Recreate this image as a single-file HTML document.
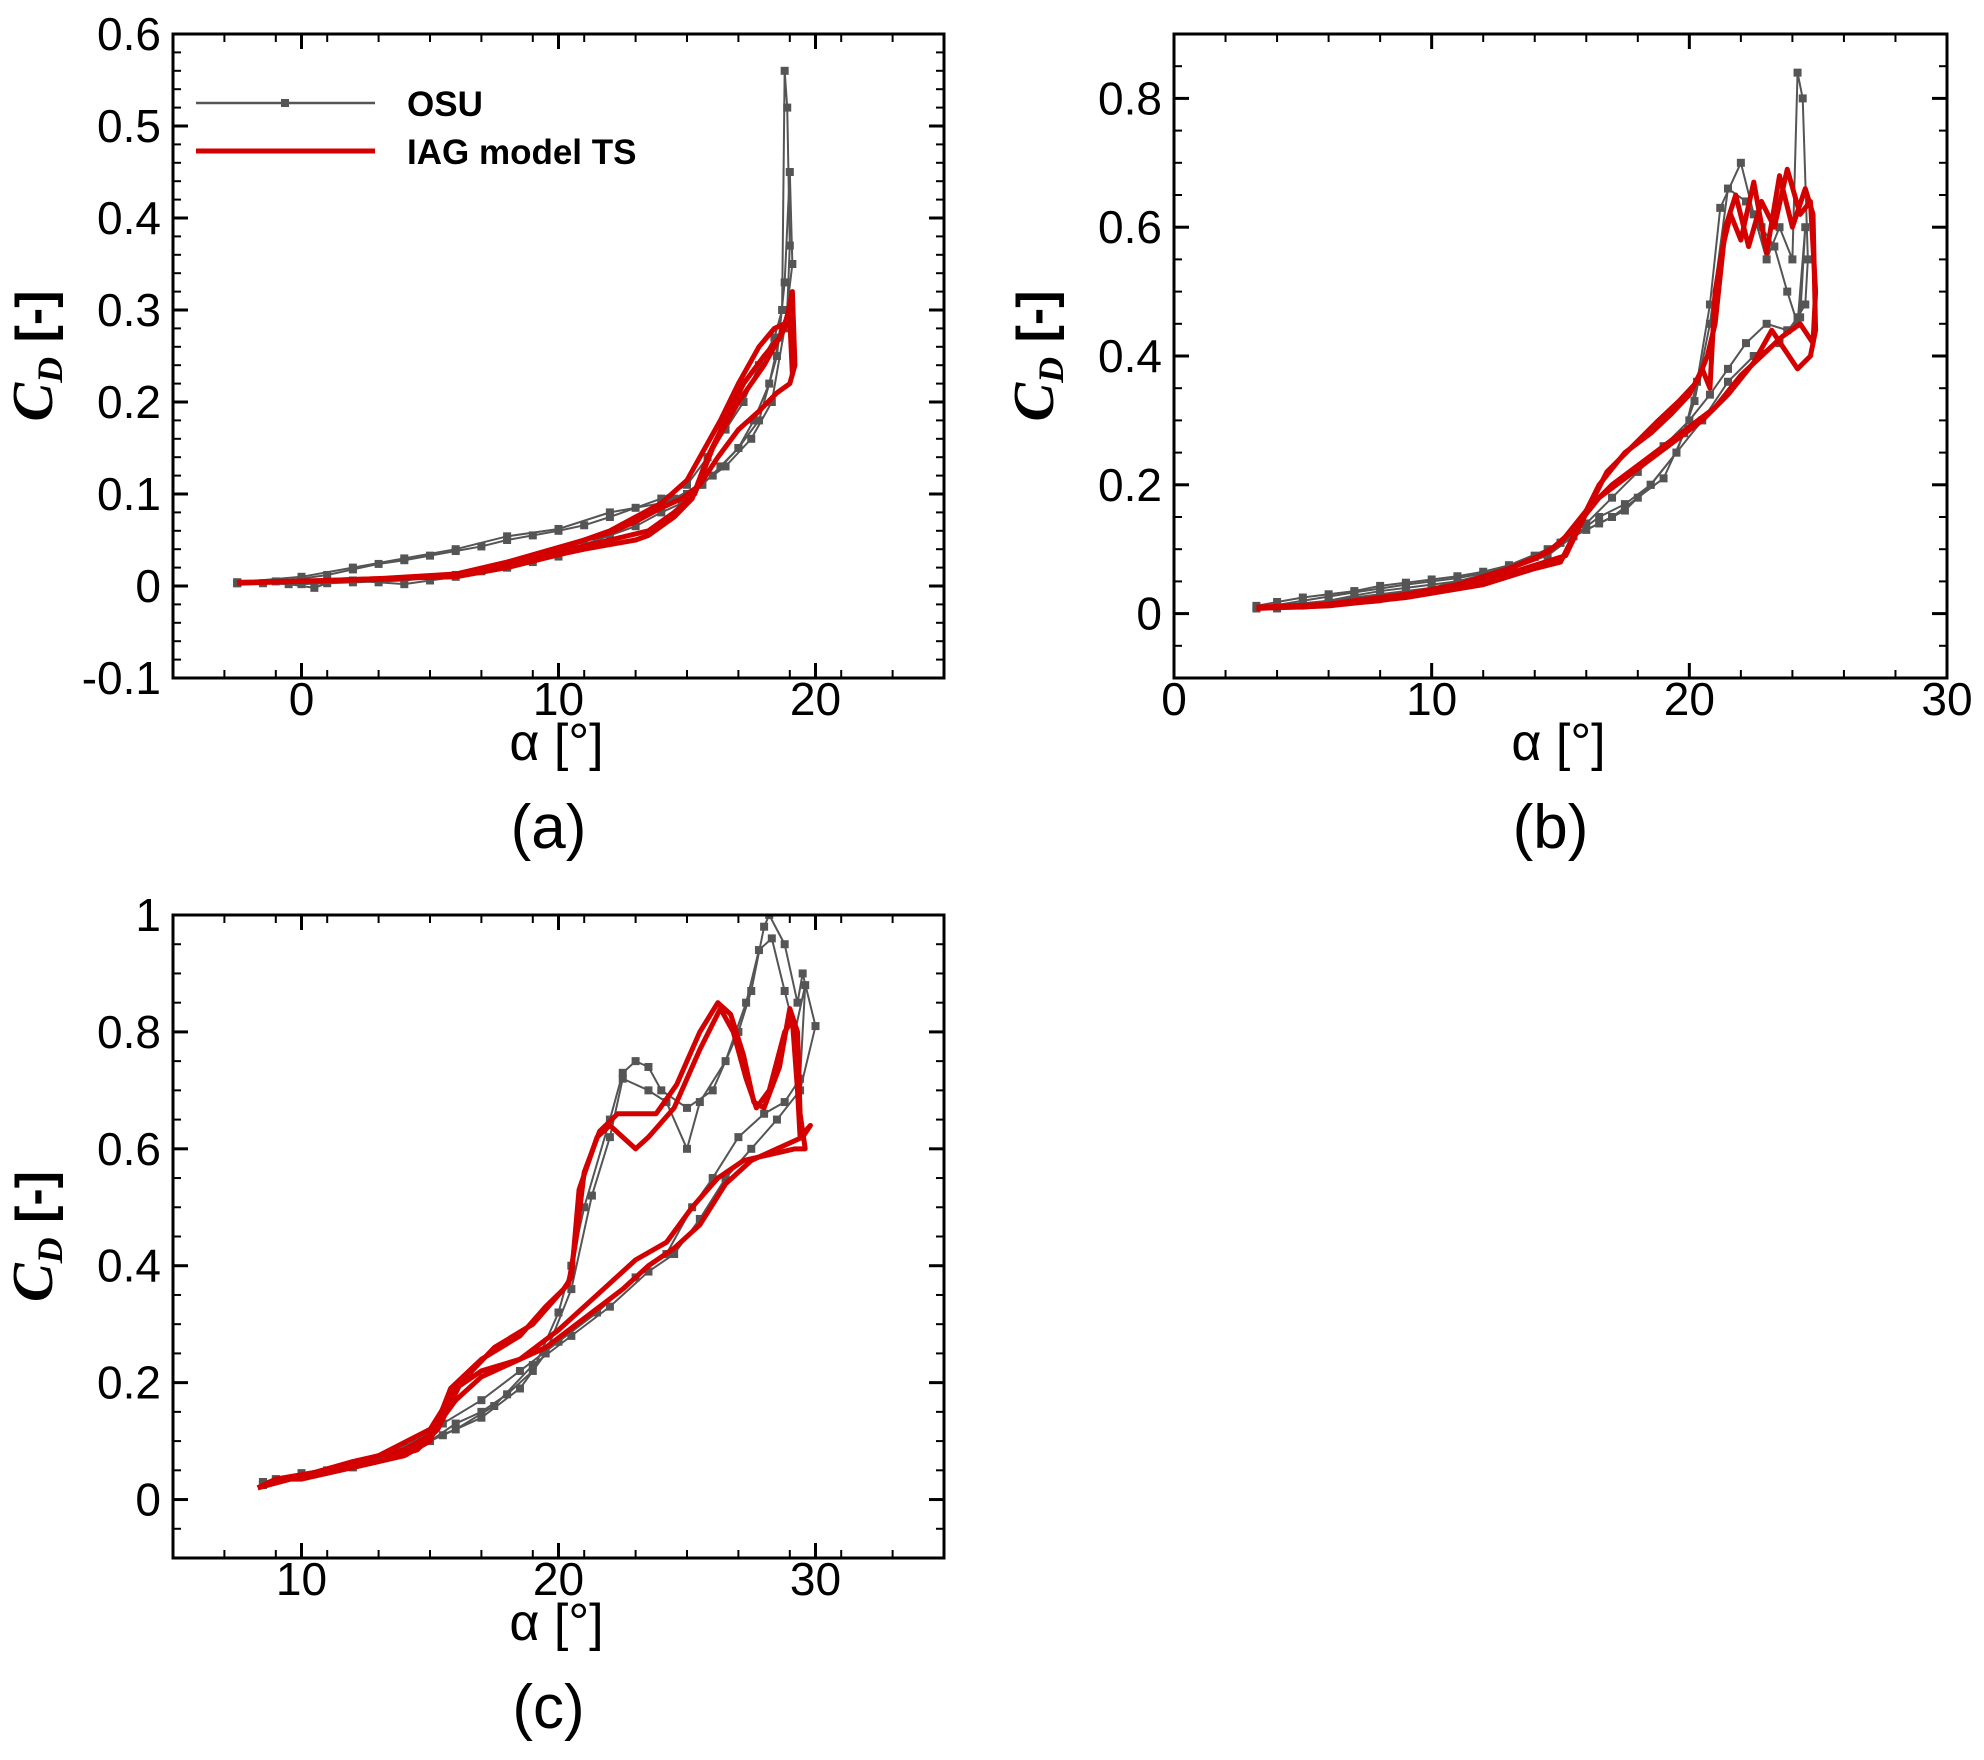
<!DOCTYPE html>
<html><head><meta charset="utf-8"><style>
html,body{margin:0;padding:0;background:#fff;}
svg{display:block;}
text{font-family:"Liberation Sans",sans-serif;}
</style></head><body>
<svg id="fig" width="1984" height="1760" viewBox="0 0 1984 1760" xmlns="http://www.w3.org/2000/svg"></svg>
<script>
// ---------- Panel (a) data ----------
const osuA1_alpha=[-2.5,-1,0,1,2,3,4,5,6,7,8,9,10,11,12,13,14,15,15.8,16.5,17.2,17.8,18.4,18.7,18.8,18.9,19.0,18.9,18.6,18.2,17.6,17,16.3,15.6,14.8,14,13,12,11,10,9,8,7,6,5,4,3,2,1,0.5,-0.5,-1.5,-2.5];
const osuA1_cd=[0.003,0.005,0.008,0.012,0.018,0.024,0.028,0.033,0.038,0.043,0.05,0.055,0.06,0.066,0.075,0.085,0.095,0.11,0.14,0.17,0.2,0.24,0.27,0.3,0.56,0.52,0.37,0.3,0.27,0.22,0.18,0.15,0.13,0.11,0.09,0.08,0.065,0.055,0.045,0.032,0.026,0.02,0.016,0.01,0.006,0.002,0.004,0.006,0.003,-0.002,0.002,0.003,0.003];
const osuA2_alpha=[-2.5,0,2,4,6,8,10,12,14,15,16,17,17.8,18.5,18.8,19.0,19.1,18.8,18.3,17.5,16.5,15.5,14.5,13,11.5,10,8,6,4,2,0,-2.5];
const osuA2_cd=[0.004,0.01,0.02,0.03,0.04,0.054,0.062,0.08,0.09,0.1,0.12,0.15,0.18,0.25,0.33,0.45,0.35,0.28,0.2,0.16,0.13,0.11,0.095,0.07,0.05,0.035,0.02,0.012,0.006,0.004,0.002,0.004];
const iagA1_alpha=[-2.5,0,3,6,7,8,9,10,11,12,13,13.5,14.5,15.2,15.8,16.5,17.2,18,18.6,19,19.1,19.0,18.8,18.4,17.8,17,16.3,15.7,15,14,13,12,11,10,9,8,6,3,0,-2.5];
const iagA1_cd=[0.003,0.005,0.008,0.01,0.015,0.02,0.027,0.034,0.04,0.045,0.05,0.055,0.075,0.095,0.14,0.18,0.22,0.25,0.27,0.3,0.23,0.29,0.285,0.28,0.26,0.22,0.18,0.15,0.115,0.09,0.075,0.06,0.05,0.04,0.03,0.022,0.012,0.007,0.005,0.003];
const iagA2_alpha=[-2.5,1,4,6,8,10,12,13.5,14.5,15.3,16,17,18,18.8,19.1,19.2,19.0,18.5,17.8,17,16.2,15.5,14.8,14,13,12,10,8,6,3,0,-2.5];
const iagA2_cd=[0.004,0.006,0.009,0.012,0.024,0.037,0.05,0.06,0.08,0.1,0.15,0.2,0.24,0.28,0.32,0.24,0.22,0.21,0.19,0.17,0.14,0.11,0.095,0.085,0.07,0.058,0.042,0.026,0.013,0.008,0.005,0.004];

// ---------- Panel (b) data ----------
const osuB1_alpha=[3.2,4,5,6,7,8,9,10,11,12,13,14,15,16,17,18,19,19.8,20.3,20.8,21.2,22,22.5,23,23.5,24,24.2,24.4,24.6,24.5,24.2,23.5,22.5,21.5,20.5,19.5,18.5,17.5,16.5,15.5,14.5,13,12,11,10,9,8,7,6,5,4,3.2];
const osuB1_cd=[0.012,0.018,0.025,0.03,0.035,0.043,0.048,0.053,0.058,0.065,0.075,0.088,0.11,0.13,0.15,0.18,0.21,0.28,0.36,0.48,0.63,0.7,0.62,0.55,0.6,0.55,0.84,0.8,0.55,0.48,0.46,0.42,0.4,0.36,0.3,0.25,0.2,0.17,0.15,0.12,0.1,0.075,0.06,0.05,0.045,0.04,0.035,0.028,0.02,0.015,0.008,0.01];
const osuB2_alpha=[3.2,5,7,9,11,13,14.5,15.5,16.5,17.5,18.5,19.5,20.2,20.8,21.5,22.2,22.8,23.3,23.8,24.2,24.5,24.3,23.8,23,22.2,21.5,20.8,20,19,18,17,16,15,14,12,10,8,6,4,3.2];
const osuB2_cd=[0.008,0.02,0.033,0.045,0.055,0.07,0.09,0.12,0.14,0.16,0.2,0.25,0.33,0.45,0.66,0.64,0.6,0.57,0.5,0.45,0.6,0.46,0.44,0.45,0.42,0.38,0.34,0.3,0.26,0.22,0.18,0.14,0.11,0.09,0.06,0.04,0.03,0.02,0.012,0.008];
const iagB1_alpha=[3.2,6,9,12,14,15,15.5,16.5,17.5,18.5,19.3,20,20.5,20.8,21,21.3,21.6,22,22.5,23,23.5,24,24.5,24.8,24.9,24.7,24.2,23.7,23.2,22.5,21.5,20.5,19.5,18.5,17.5,16.5,15.5,14.5,13,11,9,6,3.2];
const iagB1_cd=[0.008,0.012,0.025,0.045,0.07,0.08,0.12,0.2,0.25,0.28,0.31,0.34,0.38,0.35,0.5,0.57,0.62,0.58,0.67,0.56,0.68,0.6,0.66,0.62,0.44,0.4,0.38,0.41,0.44,0.39,0.34,0.3,0.27,0.24,0.21,0.18,0.13,0.095,0.07,0.045,0.03,0.015,0.008];
const iagB2_alpha=[3.2,6,9,12,14,15.2,15.8,16.8,17.8,18.8,19.6,20.3,20.7,21,21.4,21.8,22.3,22.8,23.3,23.8,24.3,24.7,24.9,24.8,24.3,23.6,22.8,22,21,20,19,18,17,16,15,14,12,10,8,5,3.2];
const iagB2_cd=[0.01,0.014,0.028,0.05,0.075,0.09,0.14,0.22,0.26,0.3,0.33,0.36,0.4,0.45,0.6,0.65,0.57,0.64,0.6,0.69,0.62,0.64,0.5,0.42,0.45,0.43,0.4,0.37,0.32,0.29,0.26,0.23,0.2,0.16,0.11,0.085,0.055,0.035,0.02,0.01,0.01];

// ---------- Panel (c) data ----------
const osuC1_alpha=[8.5,9,10,11,12,13,14,15,16,17,18,19,20,20.5,21,22,22.5,23,23.5,24,25,26,27,27.5,28,28.2,28.8,29.3,29.5,30,29.4,28.5,27.5,26.5,25.5,24.5,23.5,22,20.5,19,17.5,16,14,12,10,8.5];
const osuC1_cd=[0.03,0.035,0.045,0.05,0.06,0.07,0.085,0.1,0.13,0.15,0.18,0.22,0.32,0.4,0.5,0.65,0.73,0.75,0.74,0.7,0.67,0.7,0.8,0.87,0.98,1.0,0.95,0.85,0.9,0.81,0.7,0.65,0.6,0.55,0.48,0.42,0.39,0.33,0.28,0.23,0.16,0.12,0.085,0.06,0.045,0.03];
const osuC2_alpha=[8.5,10,12,14,15.5,17,18.5,19.5,20.5,21.3,22,22.5,23.5,24.2,25,25.5,26.5,27.3,27.8,28.3,28.8,29.2,29.6,29.4,28.8,28,27,26,25.2,24.2,23,21.5,20,18.5,17,15.5,14,12,10,8.5];
const osuC2_cd=[0.025,0.04,0.055,0.08,0.11,0.14,0.19,0.25,0.36,0.52,0.62,0.72,0.7,0.68,0.6,0.68,0.75,0.85,0.94,0.96,0.87,0.8,0.88,0.72,0.68,0.66,0.62,0.55,0.5,0.42,0.38,0.32,0.27,0.22,0.17,0.13,0.09,0.06,0.042,0.025];
const iagC1_alpha=[8.3,9,10,12,14,15,15.8,17,18.5,19.5,20.2,20.5,20.8,21.5,22,22.5,23,23.5,24.5,25.5,26.3,26.8,27.3,27.7,28.2,28.8,29.1,29.3,29.4,29.8,29.5,28.5,27.5,26.5,25.5,24.5,23.5,22.5,21,19.5,18,17,16,15,14,12,10,8.3];
const iagC1_cd=[0.02,0.035,0.035,0.055,0.075,0.1,0.19,0.24,0.28,0.33,0.36,0.38,0.53,0.62,0.64,0.62,0.6,0.62,0.67,0.77,0.84,0.8,0.72,0.67,0.7,0.8,0.82,0.7,0.62,0.64,0.62,0.6,0.58,0.54,0.47,0.43,0.4,0.36,0.31,0.26,0.23,0.21,0.17,0.11,0.085,0.065,0.04,0.02];
const iagC2_alpha=[8.3,9.5,11,13,14.5,15.3,16.2,17.5,19,20,20.4,20.7,21,21.6,22.3,23,23.8,24.6,25.5,26.2,26.7,27.2,27.6,28,28.6,29,29.3,29.4,29.6,29.2,28.2,27.2,26.2,25.2,24.2,23,21.5,20,18.5,17,16,15,13,11,9,8.3];
const iagC2_cd=[0.02,0.035,0.045,0.065,0.085,0.12,0.2,0.26,0.3,0.35,0.37,0.45,0.56,0.63,0.66,0.66,0.66,0.71,0.8,0.85,0.83,0.76,0.68,0.67,0.74,0.84,0.8,0.66,0.6,0.6,0.59,0.58,0.55,0.5,0.44,0.41,0.35,0.29,0.24,0.22,0.19,0.12,0.075,0.05,0.035,0.02];

// ---------- Axes configuration ----------
const xTicksA=[0,10,20], yTicksA=[-0.1,0,0.1,0.2,0.3,0.4,0.5,0.6];
const yTickLabelsA=["-0.1","0","0.1","0.2","0.3","0.4","0.5","0.6"];
const xTicksB=[0,10,20,30], yTicksB=[0,0.2,0.4,0.6,0.8];
const yTickLabelsB=["0","0.2","0.4","0.6","0.8"];
const xTicksC=[10,20,30], yTicksC=[0,0.2,0.4,0.6,0.8,1];
const yTickLabelsC=["0","0.2","0.4","0.6","0.8","1"];

const NS="http://www.w3.org/2000/svg";
const svg=document.getElementById('fig');
function mk(tag,attrs,parent){const e=document.createElementNS(NS,tag);for(const k in attrs)e.setAttribute(k,attrs[k]);(parent||svg).appendChild(e);return e;}

function panel(cfg){
  const g=mk('g',{});
  
  
  const L=cfg.L,R=cfg.R,T=cfg.T,B=cfg.B;
  const sx=v=>L+(v-cfg.x0)/(cfg.x1-cfg.x0)*(R-L);
  const sy=v=>B-(v-cfg.y0)/(cfg.y1-cfg.y0)*(B-T);
  const tg=mk('g',{stroke:'#000','stroke-width':2},g);
  
  
  for(let v=cfg.x0;v<=cfg.x1+1e-9;v+=cfg.xm){const x=sx(v);mk('line',{x1:x,x2:x,y1:B,y2:B-8},tg);mk('line',{x1:x,x2:x,y1:T,y2:T+8},tg);}
  for(let i=0;;i++){const v=cfg.y0+i*cfg.ym;if(v>cfg.y1+1e-9)break;const y=sy(v);mk('line',{x1:L,x2:L+8,y1:y,y2:y},tg);mk('line',{x1:R,x2:R-8,y1:y,y2:y},tg);}
  cfg.xt.forEach(v=>{const x=sx(v);mk('line',{x1:x,x2:x,y1:B,y2:B-15,'stroke-width':3},tg);mk('line',{x1:x,x2:x,y1:T,y2:T+15,'stroke-width':3},tg);
    const t=mk('text',{x:x,y:B+37,'font-size':46,'text-anchor':'middle'},g);t.textContent=String(v);
    });
  cfg.yt.forEach((v,i)=>{const y=sy(v);mk('line',{x1:L,x2:L+15,y1:y,y2:y,'stroke-width':3},tg);mk('line',{x1:R,x2:R-15,y1:y,y2:y,'stroke-width':3},tg);
    const t=mk('text',{x:L-12,y:y+16,'font-size':46,'text-anchor':'end'},g);t.textContent=cfg.ytl[i];
    });
  const clipId='clip'+cfg.name;
  const cp=mk('clipPath',{id:clipId},g);mk('rect',{x:L,y:T,width:R-L,height:B-T},cp);
  const sg=mk('g',{'clip-path':'url(#'+clipId+')'},g);
  cfg.osu.forEach(([a,c])=>{
    const p=mk('polyline',{points:a.map((v,i)=>sx(v)+','+sy(c[i])).join(' '),fill:'none',stroke:'#555','stroke-width':2},sg);
    
    a.forEach((v,i)=>{const r=mk('rect',{x:sx(v)-4,y:sy(c[i])-4,width:8,height:8,fill:'#555'},sg);
      });
  });
  cfg.iag.forEach(([a,c])=>{
    const p=mk('polyline',{points:a.map((v,i)=>sx(v)+','+sy(c[i])).join(' '),fill:'none',stroke:'#d40000','stroke-width':5,'stroke-linejoin':'round'},sg);
    
  });
  const fr=mk('rect',{x:L,y:T,width:R-L,height:B-T,fill:'none',stroke:'#000','stroke-width':3},g);
  
  const cx=(L+R)/2;
  const xt=mk('text',{x:cx-2,y:B+82,'font-size':52,'text-anchor':'middle'},g);
  xt.textContent='α [°]';
  const yt=mk('text',{x:0,y:0,'font-size':52,'text-anchor':'middle',transform:`translate(${cfg.ylx},${(T+B)/2}) rotate(-90)`},g);
  
  const c1=mk('tspan',{'font-family':'Liberation Serif, serif','font-style':'italic','font-weight':'bold','font-size':58},yt);c1.textContent='C';
  const c2=mk('tspan',{'font-family':'Liberation Serif, serif','font-style':'italic','font-weight':'bold','font-size':36,dy:10},yt);c2.textContent='D';
  const c3=mk('tspan',{'font-weight':'bold',dy:-10},yt);c3.textContent=' [-]';
  const lb=mk('text',{x:cx-10,y:B+170,'font-size':62,'text-anchor':'middle'},g);
  lb.textContent=cfg.label;
}

panel({name:'panel-a',L:173,R:944,T:34,B:678,x0:-5,x1:25,y0:-0.1,y1:0.6,xm:2,ym:0.02,xt:xTicksA,yt:yTicksA,ytl:yTickLabelsA,ylx:52,label:'(a)',
  osu:[[osuA1_alpha,osuA1_cd],[osuA2_alpha,osuA2_cd]],iag:[[iagA1_alpha,iagA1_cd],[iagA2_alpha,iagA2_cd]]});
panel({name:'panel-b',L:1174,R:1947,T:34,B:678,x0:0,x1:30,y0:-0.1,y1:0.9,xm:2,ym:0.05,xt:xTicksB,yt:yTicksB,ytl:yTickLabelsB,ylx:1053,label:'(b)',
  osu:[[osuB1_alpha,osuB1_cd],[osuB2_alpha,osuB2_cd]],iag:[[iagB1_alpha,iagB1_cd],[iagB2_alpha,iagB2_cd]]});
panel({name:'panel-c',L:173,R:944,T:915,B:1558,x0:5,x1:35,y0:-0.1,y1:1,xm:2,ym:0.05,xt:xTicksC,yt:yTicksC,ytl:yTickLabelsC,ylx:52,label:'(c)',
  osu:[[osuC1_alpha,osuC1_cd],[osuC2_alpha,osuC2_cd]],iag:[[iagC1_alpha,iagC1_cd],[iagC2_alpha,iagC2_cd]]});

const lg=mk('g',{});


mk('line',{x1:196,x2:375,y1:103,y2:103,stroke:'#555','stroke-width':2.5},lg);
mk('rect',{x:281,y:99,width:8,height:8,fill:'#555'},lg);
mk('line',{x1:196,x2:375,y1:151,y2:151,stroke:'#d40000','stroke-width':5},lg);
const l1=mk('text',{x:407,y:116,'font-size':35,'font-weight':'bold'},lg);l1.textContent='OSU';

const l2=mk('text',{x:407,y:164,'font-size':35,'font-weight':'bold'},lg);l2.textContent='IAG model TS';

</script>
</body></html>
